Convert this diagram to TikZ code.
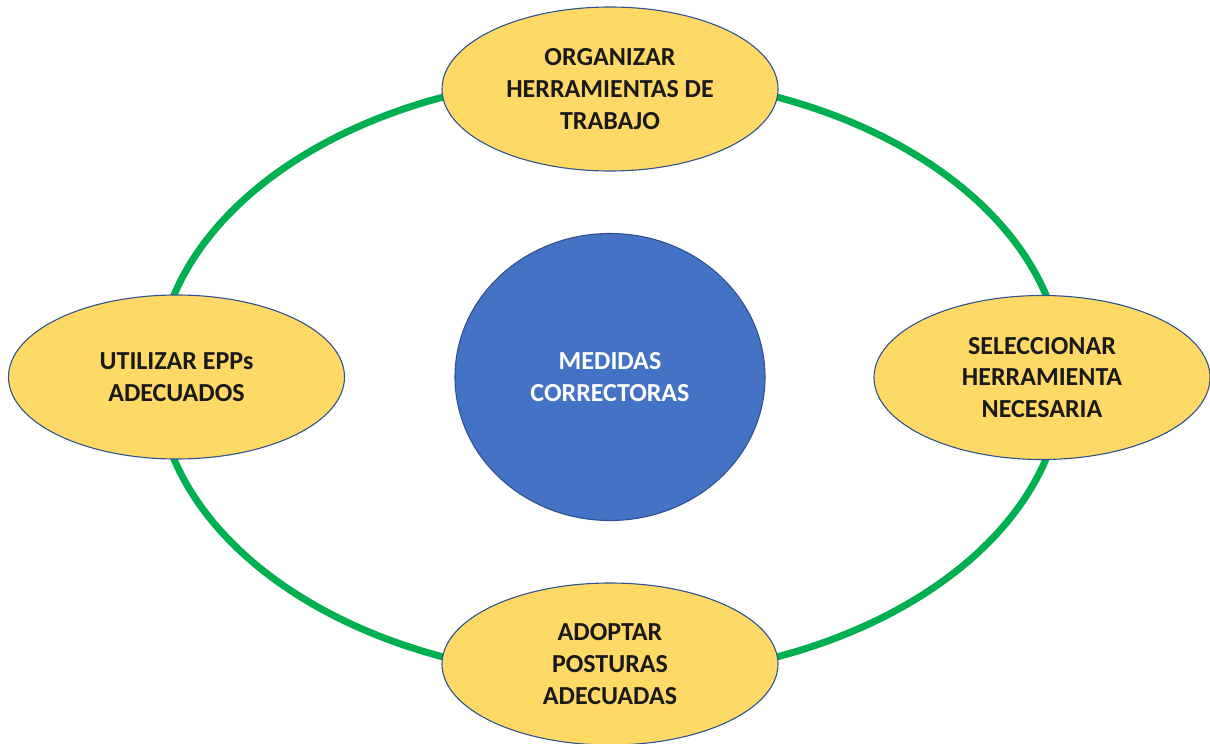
\documentclass[tikz,border=0pt]{standalone}
\usepackage{fontspec}
\setmainfont{Carlito}
\usetikzlibrary{shapes.geometric}
\definecolor{ringgreen}{HTML}{00B050}
\definecolor{goldfill}{HTML}{FFD966}
\definecolor{edgeblue}{HTML}{2F528F}
\definecolor{corefill}{HTML}{4472C4}
\tikzset{
  ring/.style={draw=ringgreen, line width=7pt},
  item/.style={ellipse, draw=edgeblue, line width=1.1pt, fill=goldfill,
    minimum width=336pt, minimum height=164pt, inner sep=0pt, align=center,
    font=\fontsize{26pt}{31.7pt}\selectfont\bfseries, text=black!90},
  core/.style={ellipse, draw=edgeblue, line width=1.1pt, fill=corefill,
    minimum width=310pt, minimum height=287pt, inner sep=0pt, align=center,
    font=\fontsize{26pt}{31.7pt}\selectfont\bfseries, text=white}
}
\begin{document}
\begin{tikzpicture}[x=1pt, y=-1pt]
\useasboundingbox (0,0) rectangle (1210,744);
\coordinate (mid) at (610,377);
\draw[ring] (mid) ellipse [x radius=453, y radius=301];
\node[core] (c) at (610,377) {MEDIDAS\\CORRECTORAS};
\node[item] (top) at (610,89) {ORGANIZAR\\HERRAMIENTAS DE\\TRABAJO};
\node[item] (left) at (176.5,377) {UTILIZAR EPPs\\ADECUADOS};
\node[item] (right) at (1042,377.5) {SELECCIONAR\\HERRAMIENTA\\NECESARIA};
\node[item, minimum height=162pt] (bottom) at (610,664) {ADOPTAR\\POSTURAS\\ADECUADAS};
\end{tikzpicture}
\end{document}
